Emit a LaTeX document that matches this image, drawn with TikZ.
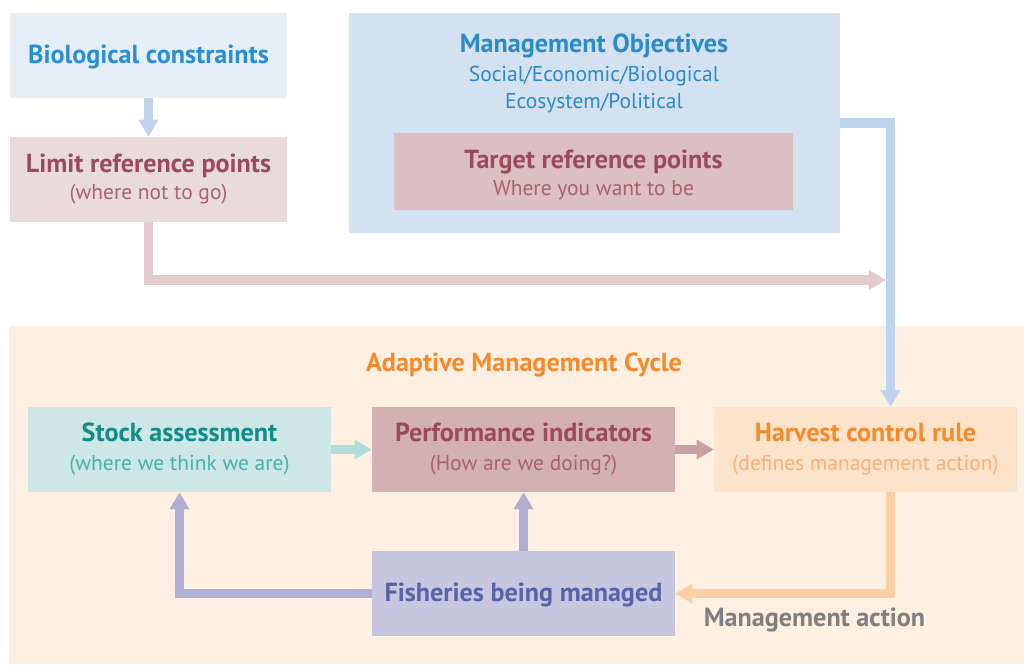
\documentclass[tikz,border=0pt]{standalone}
\usepackage{fontspec}
\setmainfont{PT Sans}
\usetikzlibrary{arrows.meta,calc,fit}
\definecolor{bioBg}{HTML}{E6EEF8}
\definecolor{bioTx}{HTML}{2B8ED2}
\definecolor{limBg}{HTML}{EADBDB}
\definecolor{rose}{HTML}{9B4B5C}
\definecolor{roseLt}{HTML}{A8646F}
\definecolor{moBg}{HTML}{D4E1F1}
\definecolor{moTx}{HTML}{2C8BCB}
\definecolor{tgtBg}{HTML}{DCBFC1}
\definecolor{blueCon}{HTML}{BED3EC}
\definecolor{pinkCon}{HTML}{E2CCCC}
\definecolor{cycBg}{HTML}{FDEFE2}
\definecolor{orangeTx}{HTML}{F68B2D}
\definecolor{stockBg}{HTML}{CCE7E6}
\definecolor{tealTx}{HTML}{138C86}
\definecolor{tealLt}{HTML}{4DB1AC}
\definecolor{perfBg}{HTML}{D3B0B2}
\definecolor{harvBg}{HTML}{FDE3C9}
\definecolor{harvSub}{HTML}{F9B27A}
\definecolor{fishBg}{HTML}{C6C6DF}
\definecolor{fishTx}{HTML}{5A62A9}
\definecolor{purpleArr}{HTML}{AFAFD4}
\definecolor{tealArr}{HTML}{B1DDDB}
\definecolor{pinkArr}{HTML}{C9A1A4}
\definecolor{orangeCon}{HTML}{FCCFA5}
\definecolor{grayTx}{HTML}{7F7F7F}
\begin{document}
\begin{tikzpicture}[x=0.75pt,y=-0.75pt,
  box/.style={inner sep=0pt,draw=none},
  ttl/.style={inner sep=0pt,anchor=base,font=\fontsize{19.6}{22}\selectfont\bfseries},
  sub/.style={inner sep=0pt,anchor=base,font=\fontsize{16.1}{19}\selectfont},
  conn/.style={line width=7pt,line join=miter,-{Triangle[length=12.75pt,width=14pt]}}]
\useasboundingbox (0,0) rectangle (1024,664);
% boxes
\node[box,fill=cycBg,fit={(9,326) (1024,664)}] (cyc) {};
\node[box,fill=bioBg,fit={(10,13) (287,98)}] (bio) {};
\node[box,fill=limBg,fit={(10,137) (287,222)}] (lim) {};
\node[box,fill=moBg,fit={(349,13) (840,233)}] (mo) {};
\node[box,fill=tgtBg,fit={(394,133) (793,210)}] (tgt) {};
\node[box,fill=stockBg,fit={(28,407) (331,492)}] (stock) {};
\node[box,fill=perfBg,fit={(372,407) (675,492)}] (perf) {};
\node[box,fill=harvBg,fit={(714,407) (1017,492)}] (hcr) {};
\node[box,fill=fishBg,fit={(372,551) (675,636)}] (fish) {};
% texts
\node[ttl,text=bioTx] (biot) at (148.5,63) {Biological constraints};
\node[ttl,text=rose] (limt) at (148.5,172) {Limit reference points};
\node[sub,text=roseLt] (lims) at (148.5,199) {(where not to go)};
\node[ttl,text=moTx] (mot) at (594,52) {Management Objectives};
\node[sub,text=moTx] (mos1) at (594,81.5) {Social/Economic/Biological};
\node[sub,text=moTx] (mos2) at (594,108.5) {Ecosystem/Political};
\node[ttl,text=rose] (tgtt) at (593.5,168.5) {Target reference points};
\node[sub,text=roseLt] (tgts) at (593.5,195) {Where you want to be};
\node[ttl,text=orangeTx] (cyct) at (524,371.5) {Adaptive Management Cycle};
\node[ttl,text=tealTx] (stockt) at (179.5,441.5) {Stock assessment};
\node[sub,text=tealLt] (stocks) at (179.5,470) {(where we think we are)};
\node[ttl,text=rose] (perft) at (523.5,441.5) {Performance indicators};
\node[sub,text=roseLt] (perfs) at (523.5,470) {(How are we doing?)};
\node[ttl,text=orangeTx] (hcrt) at (865.5,441.5) {Harvest control rule};
\node[sub,text=harvSub] (hcrs) at (865.5,470) {(defines management action)};
\node[ttl,text=fishTx] (fisht) at (523.5,601) {Fisheries being managed};
\node[ttl,text=grayTx] (mact) at (814.5,626.5) {Management action};
% connector points
\coordinate (pinkend) at (886,280);
\coordinate (hcrin) at (890.5,407);
\coordinate (hcrout) at (890.5,492);
% connectors
\draw[conn,blueCon] (bio.south) -- (lim.north);
\draw[conn,pinkCon] (lim.south) |- (pinkend);
\draw[conn,blueCon] (mo.east) -| (hcrin);
\draw[conn,tealArr] (stock.east) -- (perf.west);
\draw[conn,pinkArr] (perf.east) -- (hcr.west);
\draw[conn,orangeCon] (hcrout) |- (fish.east);
\draw[conn,purpleArr] (fish.west) -| (stock.south);
\draw[conn,purpleArr] (fish.north) -- (perf.south);
\end{tikzpicture}
\end{document}
